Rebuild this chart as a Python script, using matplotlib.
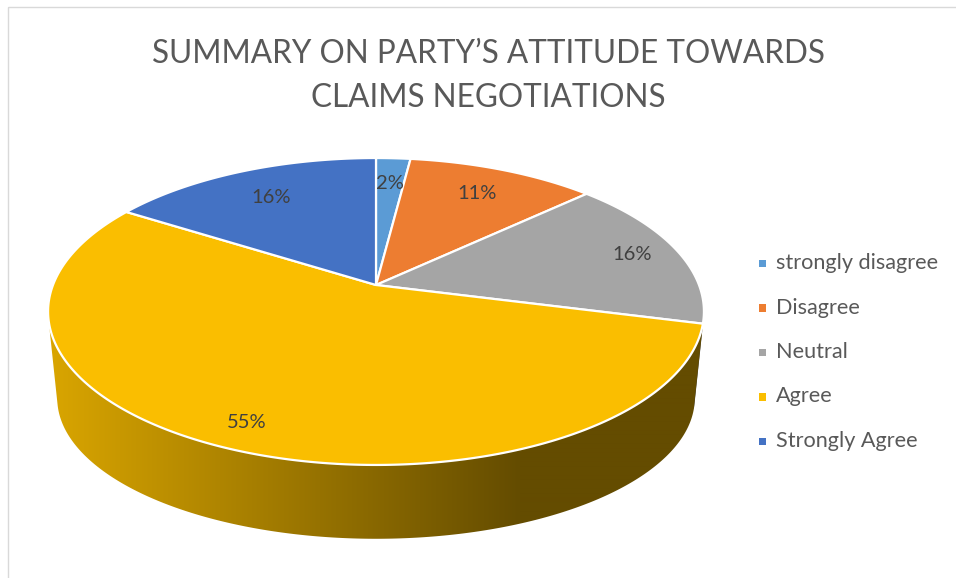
import numpy as np
import matplotlib
matplotlib.use('Agg')
import matplotlib.pyplot as plt
from matplotlib.patches import Polygon, Rectangle

# Survey responses
categories = ['strongly disagree', 'Disagree', 'Neutral', 'Agree', 'Strongly Agree']
percentages = [2, 11, 16, 55, 16]
colors = ['#5B9BD5', '#ED7D31', '#A5A5A5', '#FABE00', '#4472C4']
title_lines = ['SUMMARY ON PARTY\u2019S ATTITUDE TOWARDS', 'CLAIMS NEGOTIATIONS']

# how far out each data label sits (fraction of radius)
label_radius = [0.77, 0.77, 0.85, 0.87, 0.75]

W, H = 956, 578
fig = plt.figure(figsize=(W / 100, H / 100), dpi=100)
ax = fig.add_axes([0, 0, 1, 1])
ax.set_xlim(0, W)
ax.set_ylim(H, 0)
ax.axis('off')

plt.rcParams['font.family'] = ['Lato', 'DejaVu Sans']

# perspective projection of the unit disk onto the page (pixels)
cx, cy = 376, 285
k = 0.1726
q = -99.7
a = 323
# bottom rim: slightly narrower and flatter, shifted down
top_mid_y, bot_mid_y = 310, 397
bot_sx, bot_sy = 0.972, 0.915


def project(theta, r=1.0):
    X = r * np.cos(theta)
    Y = r * np.sin(theta)
    den = 1 + k * Y
    return cx + a * X / den, (cy + q * Y) / den


def project_bottom(theta):
    x, y = project(theta)
    return cx + (x - cx) * bot_sx, bot_mid_y + (y - top_mid_y) * bot_sy


def shade(x):
    # side gets darker towards the right
    t = np.clip((x - 50) / (520 - 50), 0, 1)
    return 0.87 - 0.47 * t


def convex_hull(pts):
    pts = sorted(map(tuple, pts))

    def cross(o, p, r):
        return (p[0] - o[0]) * (r[1] - o[1]) - (p[1] - o[1]) * (r[0] - o[0])

    lower, upper = [], []
    for p in pts:
        while len(lower) >= 2 and cross(lower[-2], lower[-1], p) <= 0:
            lower.pop()
        lower.append(p)
    for p in reversed(pts):
        while len(upper) >= 2 and cross(upper[-2], upper[-1], p) <= 0:
            upper.pop()
        upper.append(p)
    return np.array(lower[:-1] + upper[:-1])


# slice angles, clockwise from 12 o'clock
fracs = np.array(percentages) / sum(percentages)
ends = np.pi / 2 - 2 * np.pi * np.cumsum(fracs)
starts = np.concatenate([[np.pi / 2], ends[:-1]])

# side walls (front half, a little past the rim extremes);
# the part under the top face gets covered by it
vis_lo, vis_hi = np.radians(-195), np.radians(15)
xs = np.arange(0, W)
for s, e, col in zip(starts, ends, colors):
    for off in (0.0, -2 * np.pi, 2 * np.pi):
        lo, hi = max(e + off, vis_lo), min(s + off, vis_hi)
        if hi <= lo:
            continue
        th = np.linspace(hi, lo, 300)
        tx, ty = project(th)
        bx, by = project_bottom(th)
        pts = np.column_stack([np.concatenate([tx, bx]),
                               np.concatenate([ty, by])])
        patch = Polygon(convex_hull(pts), closed=True,
                        facecolor='none', edgecolor='none')
        ax.add_patch(patch)
        base = np.array(matplotlib.colors.to_rgb(col))
        img = shade(xs)[None, :, None] * base[None, None, :]
        img = np.repeat(img, 2, axis=0)
        im = ax.imshow(img, extent=[0, W, H, 0], aspect='auto',
                       interpolation='bilinear', zorder=1)
        im.set_clip_path(patch)

# top faces
for s, e, col in zip(starts, ends, colors):
    th = np.linspace(s, e, 300)
    tx, ty = project(th)
    poly = np.column_stack([np.concatenate([[cx], tx]),
                            np.concatenate([[cy], ty])])
    ax.add_patch(Polygon(poly, closed=True, facecolor=col,
                         edgecolor='white', linewidth=1.6, zorder=2,
                         joinstyle='round'))

# percentage labels
for s, e, p, r in zip(starts, ends, percentages, label_radius):
    lx, ly = project((s + e) / 2, r)
    ax.text(lx, ly, f'{p}%', ha='center', va='center', fontsize=14.5,
            color='#404040', zorder=3)

# legend
for i, (lab, col) in enumerate(zip(categories, colors)):
    ly = 263 + i * 44.5
    ax.add_patch(Rectangle((759, ly - 3.5), 7.5, 7.5, facecolor=col,
                           edgecolor='none', zorder=3))
    ax.text(776, ly, lab, ha='left', va='center', fontsize=15.6,
            color='#595959', zorder=3)

# title
for txt, base_y in zip(title_lines, [63, 107]):
    ax.text(488, base_y, txt, ha='center', va='baseline', fontsize=22.7,
            color='#595959')

# chart area border
ax.add_patch(Rectangle((8, 7), 1000, 1000, facecolor='none',
                       edgecolor='#D9D9D9', linewidth=1, zorder=0))

fig.savefig('out.png', dpi=100)
